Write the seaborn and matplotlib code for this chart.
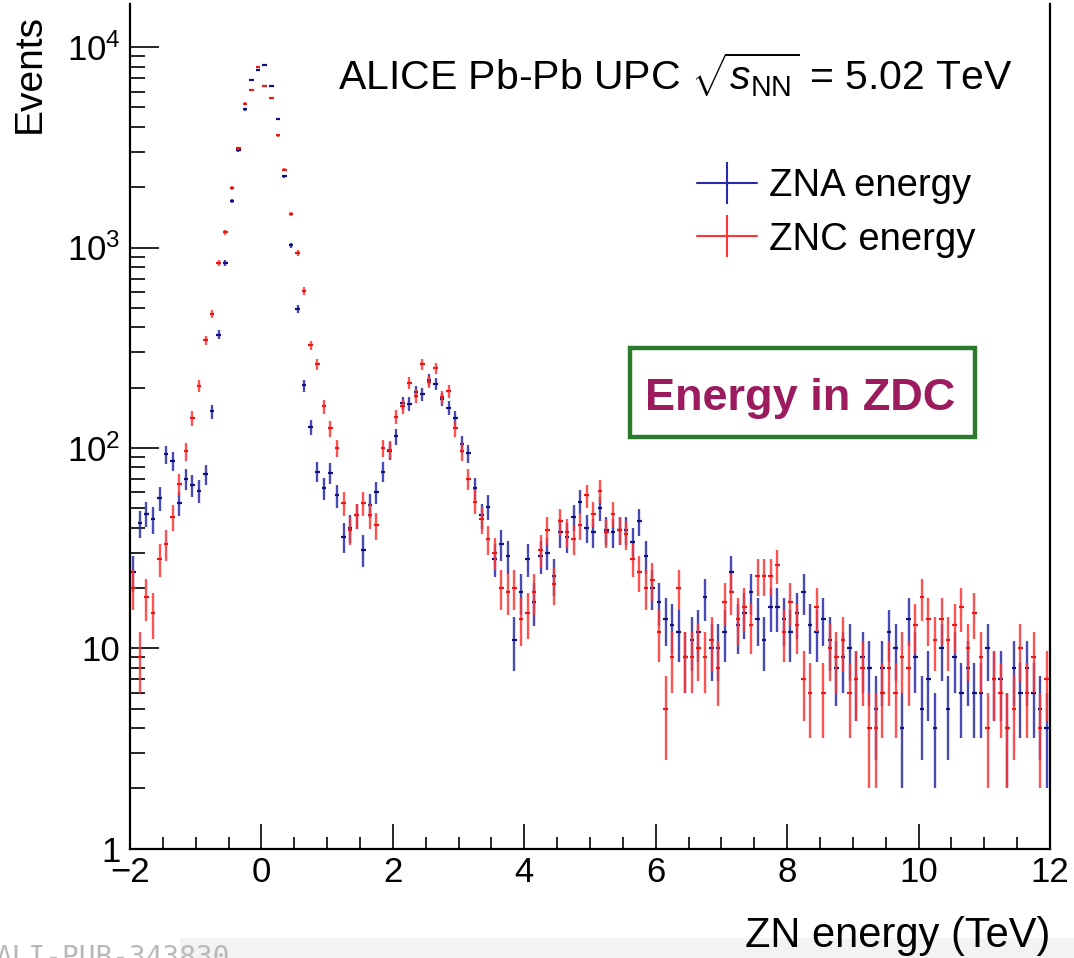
import numpy as np
import pandas as pd
import matplotlib
matplotlib.use("Agg")
import matplotlib.pyplot as plt
import seaborn as sns
from matplotlib.lines import Line2D
from matplotlib.patches import Rectangle
from matplotlib.ticker import FixedLocator, MultipleLocator, LogLocator, NullFormatter, FixedFormatter

# ---------------- data ----------------
E_MIN, E_MAX, N_BINS = -2.0, 12.0, 140

zna_counts = [
    24, 42, 47, 44, 56, 93, 86, 53, 70, 65,
    61, 74, 152, 367, 839, 1712, 3063, 4895, 6870, 7700,
    8170, 6370, 4375, 2265, 1026, 495, 205, 127, 76, 63,
    75, 58, 36, 40, 46, 31, 52, 60, 76, 97,
    114, 167, 166, 191, 186, 218, 208, 175, 158, 141,
    105, 94, 63, 46, 51, 28, 33, 29, 11, 19,
    28, 17, 29, 30, 23, 38, 36, 45, 54, 40,
    38, 50, 39, 38, 39, 39, 34, 43, 29, 20,
    17, 14, 13, 12, 9, 11, 12, 18, 10, 10,
    12, 24, 13, 15, 19, 14, 11, 16, 16, 14,
    12, 15, 19, 13, 12, 14, 11, 8, 9, 10,
    7, 9, 8, 5, 8, 12, 10, 4, 14, 9,
    5, 7, 4, 10, 5, 9, 6, 8, 6, 6,
    10, 7, 7, 4, 8, 6, 8, 6, 5, 4,
]

znc_counts = [
    20, 9, 18, 15, 28, 33, 45, 66, 96, 141,
    204, 345, 464, 839, 1191, 1987, 3135, 5225, 6110, 7930,
    6420, 5570, 3630, 2445, 1469, 942, 607, 325, 261, 161,
    125, 100, 53, 39, 46, 53, 46, 41, 100, 98,
    143, 161, 212, 181, 262, 214, 250, 179, 192, 125,
    96, 70, 54, 44, 35, 30, 20, 19, 20, 14,
    15, 19, 31, 39, 21, 43, 38, 35, 41, 58,
    47, 61, 38, 47, 39, 37, 28, 24, 20, 22,
    12, 5, 9, 20, 9, 9, 10, 9, 11, 8,
    17, 19, 14, 16, 13, 23, 23, 23, 26, 12,
    17, 13, 7, 6, 16, 6, 10, 9, 11, 6,
    7, 8, 4, 4, 6, 8, 6, 9, 8, 13,
    18, 14, 11, 14, 11, 13, 16, 10, 15, 9,
    4, 7, 6, 4, 5, 10, 6, 9, 4, 7,
]

series_names = ["ZNA energy", "ZNC energy"]
series_colors = {"ZNA energy": "#2a2aaa", "ZNC energy": "#ff3535"}
marker_colors = {"ZNA energy": "#10107e", "ZNC energy": "#e81818"}

x_ticks = [-2, 0, 2, 4, 6, 8, 10, 12]
x_tick_labels = ["\u22122", "0", "2", "4", "6", "8", "10", "12"]
y_ticks = [1, 10, 100, 1000, 10000]
y_tick_labels = ["1", "10", r"$10^{2}$", r"$10^{3}$", r"$10^{4}$"]

title_text = r"ALICE Pb-Pb UPC $\sqrt{s_{\mathrm{NN}}}$ = 5.02 TeV"
x_label = "ZN energy (TeV)"
y_label = "Events"
box_text = "Energy in ZDC"
watermark = "ALI-PUB-343830"

# ---------------- build table ----------------
edges = np.linspace(E_MIN, E_MAX, N_BINS + 1)
centers = 0.5 * (edges[:-1] + edges[1:])
df = pd.concat([
    pd.DataFrame({"energy": centers, "events": np.asarray(zna_counts, float), "detector": series_names[0]}),
    pd.DataFrame({"energy": centers, "events": np.asarray(znc_counts, float), "detector": series_names[1]}),
], ignore_index=True)
df["err"] = np.sqrt(df["events"])

# ---------------- style ----------------
sns.set_theme(style="ticks")
plt.rcParams["font.family"] = ["Liberation Sans", "DejaVu Sans"]
plt.rcParams["mathtext.fontset"] = "custom"
plt.rcParams["mathtext.rm"] = "Liberation Sans"
plt.rcParams["mathtext.it"] = "Liberation Sans:italic"
plt.rcParams["mathtext.bf"] = "Liberation Sans:bold"
plt.rcParams["axes.unicode_minus"] = True
plt.rcParams["text.color"] = "black"
plt.rcParams["axes.labelcolor"] = "black"
plt.rcParams["xtick.color"] = "black"
plt.rcParams["ytick.color"] = "black"

W, H = 1074, 958
fig = plt.figure(figsize=(W / 100, H / 100), dpi=100)
fig.patch.set_facecolor("white")

ax_left, ax_right = 130, 1050
ax_bottom, ax_top = 848.7, 4
ax = fig.add_axes([ax_left / W, 1 - ax_bottom / H, (ax_right - ax_left) / W, (ax_bottom - ax_top) / H])

dec_px = 200.4
ax.set_yscale("log")
ax.set_xlim(E_MIN, E_MAX)
ax.set_ylim(1, 10 ** ((ax_bottom - ax_top) / dec_px))

half_w = 0.035
for i, name in enumerate(series_names):
    sub = df[df["detector"] == name]
    ax.errorbar(sub["energy"], sub["events"], yerr=sub["err"], fmt="none",
                ecolor=series_colors[name], elinewidth=1.7, capsize=0, alpha=0.85,
                zorder=3 + 2 * i)
    ax.errorbar(sub["energy"], sub["events"], xerr=half_w, fmt="none",
                ecolor=marker_colors[name], elinewidth=1.6, capsize=0,
                zorder=4 + 2 * i)

# axes styling (ROOT-like)
for s in ["left", "bottom", "right"]:
    ax.spines[s].set_linewidth(1.6)
    ax.spines[s].set_color("black")
ax.spines["top"].set_visible(False)

ax.xaxis.set_major_locator(FixedLocator(x_ticks))
ax.xaxis.set_major_formatter(FixedFormatter(x_tick_labels))
ax.xaxis.set_minor_locator(MultipleLocator(0.5))
ax.yaxis.set_major_locator(FixedLocator(y_ticks))
ax.yaxis.set_major_formatter(FixedFormatter(y_tick_labels))
ax.yaxis.set_minor_locator(LogLocator(base=10, subs=np.arange(2, 10), numticks=20))
ax.yaxis.set_minor_formatter(NullFormatter())

ax.tick_params(axis="x", which="major", direction="in", length=18, width=1.2,
               labelsize=25, pad=5, top=False, colors="black")
ax.tick_params(axis="x", which="minor", direction="in", length=9, width=1.2, top=False)
ax.tick_params(axis="y", which="major", direction="in", length=21, width=1.2,
               labelsize=25, pad=7, right=False, colors="black")
ax.tick_params(axis="y", which="minor", direction="in", length=11, width=1.2, right=False)
ax.set_xlabel("")
ax.set_ylabel("")
ax.grid(False)

# texts
fig.text(338 / W, 1 - 90 / H, title_text, fontsize=29.5, ha="left", va="baseline", color="black")
fig.text(1050 / W, 1 - 947 / H, x_label, fontsize=30, ha="right", va="baseline", color="black")
fig.text(30 / W, 1 - 14 / H, y_label, fontsize=28, rotation=90, ha="center", va="top", color="black")

# legend
handles = [Line2D([], [], color=series_colors[n], lw=1.5, marker="|", markersize=30, mew=1.5)
           for n in series_names]
leg = ax.legend(handles, series_names, loc="upper left",
                bbox_to_anchor=(697 / W, 1 - 168 / H), bbox_transform=fig.transFigure,
                frameon=False, fontsize=27.5, handlelength=1.58, handletextpad=0.3,
                labelspacing=0.46, borderpad=0, borderaxespad=0, numpoints=1)
for t in leg.get_texts():
    t.set_color("black")

# highlighted box
fig.patches.append(Rectangle((630 / W, 1 - 437 / H), 345 / W, 89 / H, transform=fig.transFigure,
                             facecolor="white", edgecolor="#2b7a2b", linewidth=3.2, zorder=5))
fig.text(800 / W, 1 - 410 / H, box_text, fontsize=32.5, fontweight="bold", color="#9b1b5e",
         ha="center", va="baseline", zorder=6)

# bottom band and watermark
fig.patches.append(Rectangle((180 / W, 0), 900 / W, 20 / H, transform=fig.transFigure,
                             facecolor="#f3f3f3", edgecolor="none", zorder=0))
fig.text(-4 / W, -8 / H, watermark, fontsize=20, family="DejaVu Sans Mono", color="#b8b8b8",
         ha="left", va="baseline")

fig.savefig("out.png", dpi=100, facecolor="white")
